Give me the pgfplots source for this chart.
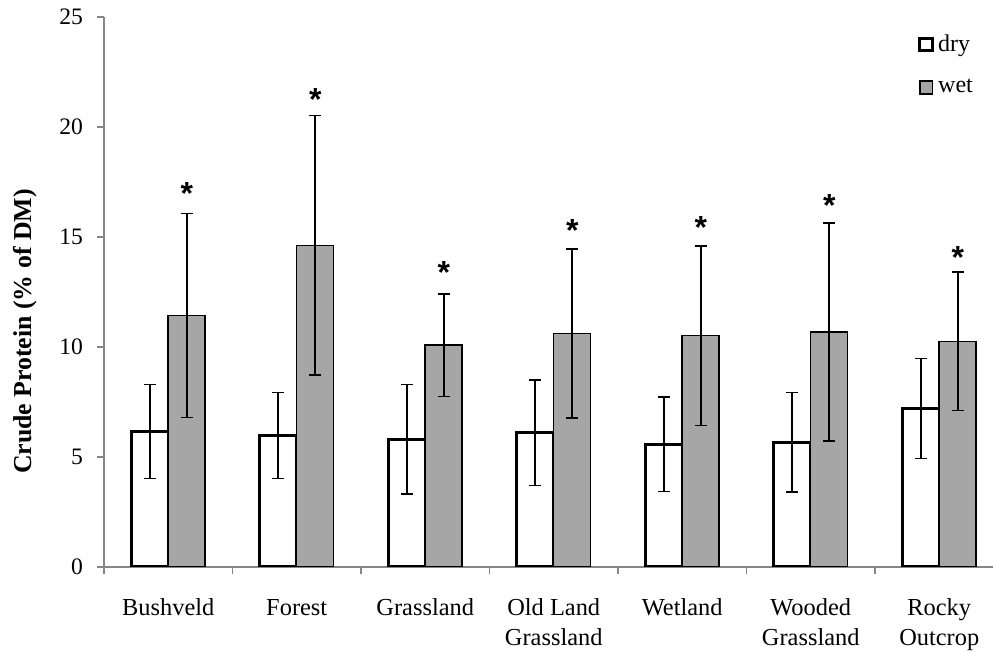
\documentclass[border=0pt]{standalone}
\usepackage{fontspec}
\setmainfont{Liberation Serif}
\newfontfamily\astfont{Liberation Sans}
\usepackage{pgfplots}
\pgfplotsset{compat=1.18}
\definecolor{axgray}{HTML}{868686}
\definecolor{wetgray}{HTML}{A6A6A6}
\begin{document}
\begin{tikzpicture}
\useasboundingbox (-52pt,-42.5pt) rectangle (444.5pt,283.5pt);
\begin{axis}[
  scale only axis, width=449.75pt, height=275pt,
  at={(0,0)}, anchor=south west,
  ymin=0, ymax=25, ytick={0,5,...,25},
  xmin=-0.5, xmax=6.5,
  axis lines=left,
  axis line style={draw=axgray, line width=0.75pt, -},
  tick align=outside,
  major tick length=3.5pt,
  tick style={draw=axgray, line width=0.75pt},
  xtick={-0.5,0.5,...,6.5},
  xticklabels={},
  extra x ticks={0,1,2,3,4,5,6},
  extra x tick labels={Bushveld,Forest,Grassland,{Old Land\\Grassland},Wetland,{Wooded\\Grassland},{Rocky\\Outcrop}},
  extra x tick style={major tick length=0pt, xticklabel style={align=center, yshift=-12.5pt, font=\fontsize{12.2}{15}\selectfont}},
  /pgf/number format/assume math mode=true,
  yticklabel style={font=\fontsize{11.8}{13}\selectfont, xshift=-3.5pt},
  ylabel={\textbf{Crude Protein (\% of DM)}},
  ylabel style={font=\fontsize{12.9}{14}\selectfont, at={(axis description cs:-0.0875,0.428)}, anchor=center},
  ybar=0pt, bar width=18.5pt,
  legend style={at={(axis description cs:0.905,0.976)}, anchor=north west, draw=none, fill=none,
    font=\fontsize{12}{14}\selectfont, row sep=8.5pt, inner sep=0pt},
  legend cell align=left,
  legend image code/.code={\draw[#1] (0pt,-3.2pt) rectangle (6.4pt,3.2pt);},
  error bars/y dir=both, error bars/y explicit,
  error bars/error mark options={rotate=90, mark size=3pt, line width=0.8pt, draw=black},
  error bars/error bar style={line width=0.8pt, draw=black},
]
\addplot[fill=white, draw=black, line width=1.5pt] coordinates {
  (0,6.16) +- (0,2.13)
  (1,5.98) +- (0,1.95)
  (2,5.81) +- (0,2.48)
  (3,6.11) +- (0,2.40)
  (4,5.58) +- (0,2.14)
  (5,5.67) +- (0,2.27)
  (6,7.20) +- (0,2.27)
};
\addplot[fill=wetgray, draw=black, line width=0.75pt] coordinates {
  (0,11.43) +- (0,4.63)
  (1,14.62) +- (0,5.90)
  (2,10.08) +- (0,2.33)
  (3,10.61) +- (0,3.85)
  (4,10.52) +- (0,4.08)
  (5,10.69) +- (0,4.95)
  (6,10.26) +- (0,3.14)
};
\legend{dry,wet}
\node[anchor=north, inner sep=0pt, yshift=3pt, xshift=9.25pt] at (axis cs:0,17.24) {\fontsize{16}{16}\astfont\bfseries *};
\node[anchor=north, inner sep=0pt, yshift=3pt, xshift=9.25pt] at (axis cs:1,21.51) {\fontsize{16}{16}\astfont\bfseries *};
\node[anchor=north, inner sep=0pt, yshift=3pt, xshift=9.25pt] at (axis cs:2,13.61) {\fontsize{16}{16}\astfont\bfseries *};
\node[anchor=north, inner sep=0pt, yshift=3pt, xshift=9.25pt] at (axis cs:3,15.53) {\fontsize{16}{16}\astfont\bfseries *};
\node[anchor=north, inner sep=0pt, yshift=3pt, xshift=9.25pt] at (axis cs:4,15.70) {\fontsize{16}{16}\astfont\bfseries *};
\node[anchor=north, inner sep=0pt, yshift=3pt, xshift=9.25pt] at (axis cs:5,16.66) {\fontsize{16}{16}\astfont\bfseries *};
\node[anchor=north, inner sep=0pt, yshift=3pt, xshift=9.25pt] at (axis cs:6,14.31) {\fontsize{16}{16}\astfont\bfseries *};
\end{axis}
\end{tikzpicture}
\end{document}
